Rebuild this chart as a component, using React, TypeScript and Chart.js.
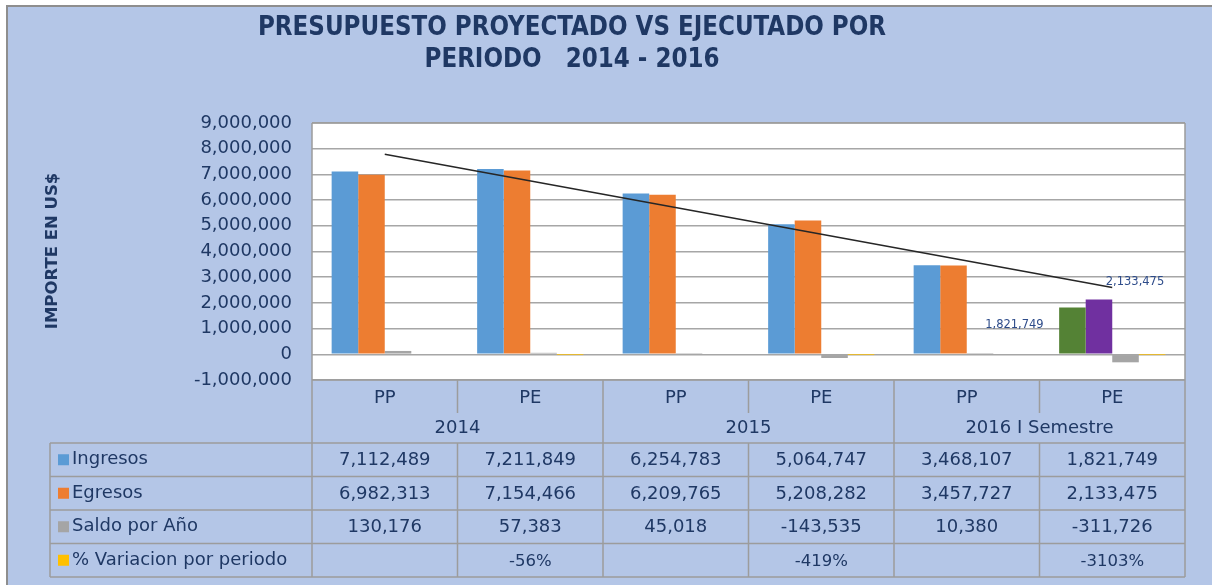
import React, { useEffect, useRef } from 'react';
import { Chart, registerables } from 'chart.js';

Chart.register(...registerables);

// ---------- data ----------
const categories = ['PP', 'PE', 'PP', 'PE', 'PP', 'PE'];
const periods = ['2014', '2015', '2016 I Semestre'];
const seriesNames = ['Ingresos', 'Egresos', 'Saldo por Año', '% Variacion por periodo'];
const ingresos = [7112489, 7211849, 6254783, 5064747, 3468107, 1821749];
const egresos = [6982313, 7154466, 6209765, 5208282, 3457727, 2133475];
const saldo = [130176, 57383, 45018, -143535, 10380, -311726];
const variacionPct: (number | null)[] = [null, -56, null, -419, null, -3103];
// linear trend of Egresos, end points
const trendEgresos: (number | null)[] = [7786000, null, null, null, null, 2595000];
const yMin = -1000000;
const yMax = 9000000;
const yStep = 1000000;
const titleLines = ['PRESUPUESTO PROYECTADO VS EJECUTADO POR', 'PERIODO   2014 - 2016'];
const yTitle = 'IMPORTE EN US$';

// ---------- style ----------
const W = 1212;
const H = 585;
const C = {
  blue: '#5B9BD5',
  orange: '#ED7D31',
  gray: '#A5A5A5',
  yellow: '#FFC000',
  green: '#548235',
  purple: '#7030A0',
  navy: '#1F3864',
  label: '#2E4C8A',
  bg: '#B4C6E7',
  grid: '#A6A6A6',
  table: '#9C9C9C',
  frame: '#8E8E8E',
};
const FONT = '"DejaVu Sans", Verdana, sans-serif';
const fmt = (v: number) => v.toLocaleString('en-US');

const framePlugin = {
  id: 'framePlugin',
  beforeDraw(chart: any) {
    const { ctx, chartArea: a } = chart;
    ctx.save();
    ctx.fillStyle = '#FFFFFF';
    ctx.fillRect(0, 0, W, H);
    ctx.fillStyle = C.bg;
    ctx.fillRect(6, 5, W - 6, H - 5);
    ctx.strokeStyle = C.frame;
    ctx.lineWidth = 2;
    ctx.beginPath();
    ctx.moveTo(7, H);
    ctx.lineTo(7, 6);
    ctx.lineTo(W, 6);
    ctx.stroke();
    ctx.fillStyle = '#FFFFFF';
    ctx.fillRect(a.left, a.top, a.right - a.left, a.bottom - a.top);
    ctx.restore();
  },
};

const tablePlugin = {
  id: 'tablePlugin',
  afterDraw(chart: any) {
    const { ctx, chartArea: a } = chart;
    const xs = chart.scales.x;
    const step = xs.getPixelForValue(1) - xs.getPixelForValue(0);
    const colEdge = (i: number) => xs.getPixelForValue(0) - step / 2 + i * step;
    const L = colEdge(0);
    const R = colEdge(categories.length);
    const top = a.bottom;
    const hdrMid = top + 33;
    const hdrEnd = top + 63;
    const rowH = 33.5;
    const tableLeft = 50;
    const bottom = hdrEnd + rowH * 4;

    ctx.save();
    // plot border
    ctx.strokeStyle = C.table;
    ctx.lineWidth = 1.5;
    ctx.beginPath();
    ctx.moveTo(L, a.top);
    ctx.lineTo(R, a.top);
    ctx.moveTo(L, a.top);
    ctx.lineTo(L, bottom);
    ctx.moveTo(R, a.top);
    ctx.lineTo(R, bottom);
    ctx.moveTo(L, top);
    ctx.lineTo(R, top);
    // table horizontals
    for (let r = 0; r <= 4; r++) {
      const y = hdrEnd + rowH * r;
      ctx.moveTo(tableLeft, y);
      ctx.lineTo(R, y);
    }
    ctx.moveTo(tableLeft, hdrEnd);
    ctx.lineTo(tableLeft, bottom);
    // verticals
    for (let i = 1; i < categories.length; i++) {
      const x = colEdge(i);
      if (i % 2 === 0) {
        ctx.moveTo(x, top);
        ctx.lineTo(x, bottom);
      } else {
        ctx.moveTo(x, top);
        ctx.lineTo(x, hdrMid);
        ctx.moveTo(x, hdrEnd);
        ctx.lineTo(x, bottom);
      }
    }
    ctx.stroke();

    // header texts
    ctx.fillStyle = C.navy;
    ctx.textAlign = 'center';
    ctx.textBaseline = 'middle';
    ctx.font = `18px ${FONT}`;
    categories.forEach((c, i) => ctx.fillText(c, xs.getPixelForValue(i), top + 18));
    periods.forEach((p, g) => ctx.fillText(p, colEdge(g * 2 + 1), top + 48));

    // rows
    const rows: (number | null)[][] = [ingresos, egresos, saldo, variacionPct];
    const keyColors = [C.blue, C.orange, C.gray, C.yellow];
    rows.forEach((vals, r) => {
      const cy = hdrEnd + rowH * (r + 0.5);
      ctx.fillStyle = keyColors[r];
      ctx.fillRect(58, cy - 5.5, 11, 11);
      ctx.fillStyle = C.navy;
      ctx.textAlign = 'left';
      ctx.font = `18px ${FONT}`;
      ctx.fillText(seriesNames[r], 72, cy);
      ctx.textAlign = 'center';
      ctx.font = r === 3 ? `16.5px ${FONT}` : `18px ${FONT}`;
      vals.forEach((v, i) => {
        if (v == null) return;
        const txt = r === 3 ? `${v}%` : fmt(v);
        ctx.fillText(txt, xs.getPixelForValue(i), cy + 1);
      });
    });

    // chart title
    ctx.font = `bold 24px "DejaVu Sans Condensed", ${FONT}`;
    ctx.fillStyle = C.navy;
    const w1 = ctx.measureText(titleLines[0]).width;
    const sx = 628 / w1;
    const tcx = 572;
    [28, 60].forEach((ty, k) => {
      ctx.save();
      ctx.translate(tcx, ty);
      ctx.scale(sx, 1.1);
      ctx.textAlign = 'center';
      ctx.fillText(titleLines[k], 0, 0);
      ctx.restore();
    });

    // y axis title
    ctx.save();
    ctx.translate(53, 251);
    ctx.rotate(-Math.PI / 2);
    ctx.font = `bold 16.5px ${FONT}`;
    ctx.textAlign = 'center';
    ctx.fillText(yTitle, 0, 0);
    ctx.restore();

    // data labels for the last period
    ctx.font = `11.5px ${FONT}`;
    ctx.fillStyle = C.label;
    ctx.textAlign = 'center';
    const last = categories.length - 1;
    const b0 = chart.getDatasetMeta(0).data[last];
    const b1 = chart.getDatasetMeta(1).data[last];
    if (b0) ctx.fillText(fmt(ingresos[last]), b0.x - 58, b0.y + 18);
    if (b1) ctx.fillText(fmt(egresos[last]), b1.x + 36, b1.y - 17);
    ctx.restore();
  },
};

export default function App() {
  const ref = useRef<HTMLCanvasElement | null>(null);

  useEffect(() => {
    if (!ref.current) return;
    const last = categories.length - 1;
    const chart = new Chart(ref.current, {
      type: 'bar',
      data: {
        labels: categories,
        datasets: [
          {
            label: seriesNames[0],
            data: ingresos,
            backgroundColor: ingresos.map((_, i) => (i === last ? C.green : C.blue)),
            order: 1,
          },
          {
            label: seriesNames[1],
            data: egresos,
            backgroundColor: egresos.map((_, i) => (i === last ? C.purple : C.orange)),
            order: 1,
          },
          { label: seriesNames[2], data: saldo, backgroundColor: C.gray, order: 1 },
          {
            label: seriesNames[3],
            data: variacionPct.map((v) => (v == null ? null : v / 100)),
            backgroundColor: C.yellow,
            order: 1,
          },
          {
            type: 'line',
            label: 'Lineal (Egresos)',
            data: trendEgresos,
            borderColor: '#262626',
            borderWidth: 1.5,
            pointRadius: 0,
            spanGaps: true,
            order: 0,
          } as any,
        ],
      },
      options: {
        responsive: false,
        animation: false,
        devicePixelRatio: 1,
        datasets: { bar: { barPercentage: 1, categoryPercentage: 0.73, borderWidth: 0 } },
        layout: { padding: { left: 0, right: 27, top: 123, bottom: 205 } },
        plugins: {
          legend: { display: false },
          title: { display: false },
          tooltip: { enabled: false },
        },
        scales: {
          x: { display: false },
          y: {
            min: yMin,
            max: yMax,
            afterFit: (s: any) => {
              s.width = 312;
            },
            ticks: {
              stepSize: yStep,
              padding: 20,
              color: C.navy,
              font: { size: 18, family: FONT },
              callback: (v: any) => fmt(Number(v)),
            },
            grid: { color: C.grid, lineWidth: 1.5, drawTicks: false },
            border: { display: false },
          },
        },
      } as any,
      plugins: [framePlugin, tablePlugin],
    });
    return () => chart.destroy();
  }, []);

  return (
    <canvas
      ref={ref}
      width={W}
      height={H}
      style={{ position: 'fixed', left: 0, top: 0, width: W, height: H, display: 'block' }}
    />
  );
}
